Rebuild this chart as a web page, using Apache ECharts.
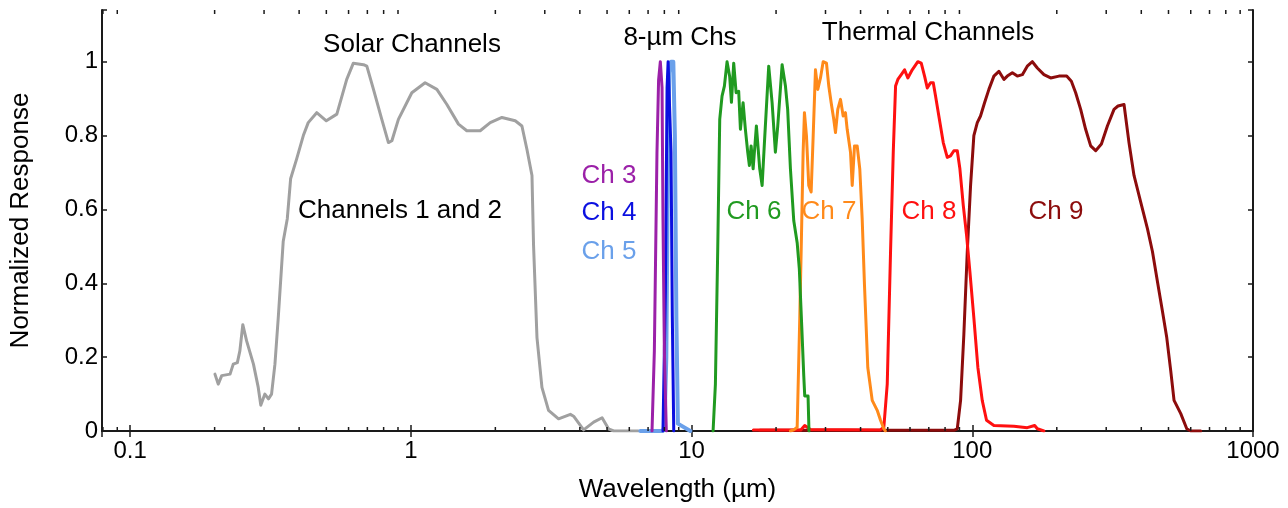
<!DOCTYPE html>
<html><head><meta charset="utf-8">
<script src="https://cdn.jsdelivr.net/npm/echarts@6/dist/echarts.min.js"></script>
<style>html,body{margin:0;padding:0;background:#fff}#c{width:1288px;height:508px}</style>
</head><body><div id="c"></div>
<script>
// ---- axis ticks ----
const xMajorTicks = [0.1, 1, 10, 100, 1000];
const xMinorTicks = [0.08, 0.09,
  0.2, 0.3, 0.4, 0.5, 0.6, 0.7, 0.8, 0.9,
  2, 3, 4, 5, 6, 7, 8, 9,
  20, 30, 40, 50, 60, 70, 80, 90,
  200, 300, 400, 500, 600, 700, 800, 900];
const yTickLabels = ['0', '0.2', '0.4', '0.6', '0.8', '1'];

// ---- spectral response curves: [wavelength (µm), normalized response] ----
const solarCh12 = [[0.2005,0.154],[0.206,0.127],[0.212,0.150],[0.227,0.154],[0.233,0.181],[0.241,0.185],[0.246,0.217],[0.252,0.288],[0.260,0.244],[0.275,0.181],[0.286,0.118],[0.292,0.070],[0.302,0.100],[0.311,0.087],[0.319,0.100],[0.328,0.181],[0.337,0.306],[0.351,0.513],[0.363,0.575],[0.373,0.683],[0.392,0.737],[0.414,0.800],[0.431,0.835],[0.462,0.862],[0.500,0.840],[0.545,0.858],[0.591,0.952],[0.624,0.996],[0.678,0.992],[0.697,0.988],[0.736,0.925],[0.788,0.844],[0.832,0.781],[0.856,0.786],[0.903,0.844],[1.008,0.916],[1.124,0.943],[1.238,0.925],[1.344,0.884],[1.478,0.831],[1.583,0.813],[1.766,0.813],[1.918,0.835],[2.111,0.849],[2.354,0.840],[2.487,0.826],[2.591,0.763],[2.701,0.692],[2.736,0.503],[2.814,0.253],[2.931,0.118],[3.094,0.056],[3.359,0.033],[3.70,0.045],[3.80,0.040],[4.125,0.003],[4.48,0.024],[4.80,0.036],[5.06,0.006],[5.28,0.0],[6.46,0.0]];
const ch3 = [[7.23,0],[7.37,0.217],[7.53,0.755],[7.63,0.95],[7.74,1.0],[7.85,0.93],[7.91,0.575],[8.0,0.218],[8.13,0]];
const ch4 = [[7.91,0],[8.07,0.38],[8.18,0.93],[8.25,1.0],[8.33,1.0],[8.45,0.755],[8.54,0.31],[8.64,0]];
const ch5 = [[6.57,0],[7.9,0.0],[8.0,0.01],[8.13,0.2],[8.23,0.7],[8.33,0.97],[8.44,1.0],[8.61,1.0],[8.72,0.8],[8.83,0.3],[8.94,0.02],[9.9,0]];
const ch6 = [[11.93,0],[12.16,0.127],[12.39,0.486],[12.60,0.844],[12.84,0.907],[13.09,0.934],[13.38,1.0],[13.67,0.96],[13.87,0.89],[14.13,0.996],[14.41,0.916],[14.72,0.92],[14.93,0.817],[15.26,0.889],[15.55,0.817],[15.85,0.755],[16.07,0.719],[16.30,0.772],[16.57,0.71],[17.02,0.826],[17.49,0.71],[17.84,0.665],[18.18,0.781],[18.83,0.988],[19.36,0.889],[19.89,0.755],[20.28,0.826],[21.02,0.992],[21.60,0.934],[22.0,0.87],[22.5,0.71],[23.12,0.57],[23.78,0.51],[24.2,0.44],[24.7,0.28],[25.1,0.15],[25.3,0.095],[26.0,0.095],[26.2,0.0]];
const ch7 = [[22.5,0],[23.12,0.003],[23.78,0.01],[24.29,0.306],[24.57,0.486],[24.97,0.755],[25.24,0.862],[25.66,0.8],[26.15,0.665],[26.67,0.647],[27.12,0.8],[27.63,0.978],[28.16,0.925],[28.79,0.956],[29.43,1.0],[30.24,0.996],[30.82,0.934],[31.43,0.889],[32.10,0.844],[32.56,0.808],[33.18,0.871],[33.93,0.898],[34.68,0.853],[35.33,0.862],[35.84,0.817],[36.83,0.755],[37.35,0.665],[38.06,0.772],[38.90,0.772],[39.74,0.71],[40.53,0.575],[41.30,0.396],[42.44,0.172],[44.01,0.083],[45.85,0.056],[47.11,0.029],[48.41,0.006],[49,0]];
const ch8 = [[16.6,0.003],[24.5,0.003],[25.3,0.015],[26.5,0.004],[47,0.003],[48.41,0.01],[49.78,0.127],[51.15,0.486],[52.30,0.755],[53.30,0.934],[54.31,0.952],[55.85,0.965],[57.39,0.978],[58.94,0.956],[61.11,0.978],[63.99,1.0],[65.80,0.996],[67.61,0.961],[69.12,0.929],[71.01,0.943],[72.61,0.943],[73.98,0.907],[76.01,0.853],[78.81,0.781],[81.44,0.741],[83.67,0.745],[86.00,0.759],[88.43,0.759],[90.34,0.71],[92.88,0.611],[95.43,0.53],[98.04,0.432],[101.3,0.306],[104.7,0.172],[108.5,0.083],[112.4,0.029],[119.4,0.015],[140.7,0.013],[157.0,0.009],[166.8,0.015],[170.5,0.006],[180.0,0]];
const ch9 = [[17.5,0.002],[86,0.002],[88.43,0.006],[90.85,0.083],[93.33,0.262],[95.98,0.486],[98.61,0.665],[101.3,0.8],[104.2,0.835],[107.0,0.853],[110.6,0.889],[114.6,0.925],[119.4,0.961],[124.4,0.974],[129.7,0.952],[133.3,0.961],[138.9,0.97],[144.7,0.961],[150.8,0.965],[157.0,0.988],[163.7,1.0],[170.5,0.983],[180.0,0.965],[190.2,0.956],[203.6,0.961],[216.9,0.961],[225.4,0.947],[233.5,0.916],[243.3,0.871],[253.4,0.817],[264.1,0.772],[275.1,0.759],[288.4,0.777],[302.9,0.826],[319.8,0.871],[330.4,0.88],[347.2,0.884],[361.6,0.781],[376.8,0.692],[398.1,0.62],[420.7,0.548],[438.3,0.486],[456.6,0.405],[475.8,0.324],[492.9,0.253],[509.3,0.163],[523.3,0.083],[552.9,0.047],[580.8,0.006],[600.2,0],[651.6,0]];

// ---- layout / style ----
const X_MIN = 0.0794, X_MAX = 1000, Y_MIN = 0, Y_MAX = 1.14;
const FONT = '"Liberation Sans", Arial, sans-serif';
const AXIS_COLOR = '#1a1a1a';

function lineSeries(name, data, color, width) {
  return { name, type: 'line', data, symbol: 'none', xAxisIndex: 0, yAxisIndex: 0,
    lineStyle: { color, width, join: 'round', cap: 'round' }, silent: true, z: 3 };
}

const annotations = [
  { text: 'Solar Channels', x: 412, y: 45, color: '#000' },
  { text: '8-µm Chs', x: 680, y: 38, color: '#000' },
  { text: 'Thermal Channels', x: 928, y: 33, color: '#000' },
  { text: 'Channels 1 and 2', x: 400, y: 211, color: '#000' },
  { text: 'Ch 3', x: 609, y: 176, color: '#9b20a8' },
  { text: 'Ch 4', x: 609, y: 213, color: '#0b10e0' },
  { text: 'Ch 5', x: 609, y: 252, color: '#6aa0ea' },
  { text: 'Ch 6', x: 754, y: 212, color: '#209a20' },
  { text: 'Ch 7', x: 829, y: 212, color: '#ff8a1a' },
  { text: 'Ch 8', x: 929, y: 212, color: '#ff1010' },
  { text: 'Ch 9', x: 1056, y: 212, color: '#8c0c0c' }
];

const isMajor = v => xMajorTicks.some(m => Math.abs(Math.log10(v) - Math.log10(m)) < 1e-6);

const chart = echarts.init(document.getElementById('c'), null, { renderer: 'canvas' });
const xAxisCommon = {
  type: 'log', logBase: 10, min: X_MIN, max: X_MAX,
  axisLine: { show: true, lineStyle: { color: AXIS_COLOR, width: 2 } },
  axisTick: { show: true, inside: true, length: 6, lineStyle: { color: AXIS_COLOR, width: 1.5 } },
  splitLine: { show: false }, minorTick: { show: false }
};
const yAxisCommon = {
  type: 'value', min: Y_MIN, max: Y_MAX, interval: 0.2,
  axisLine: { show: true, lineStyle: { color: AXIS_COLOR, width: 2 } },
  axisTick: { show: true, inside: true, length: 5, lineStyle: { color: AXIS_COLOR, width: 1.5 } },
  splitLine: { show: false }
};

chart.setOption({
  animation: false,
  backgroundColor: '#fff',
  grid: { left: 102, right: 35, top: 10, bottom: 74, containLabel: false },
  xAxis: [
    Object.assign({}, xAxisCommon, {
      position: 'bottom',
      name: 'Wavelength (µm)', nameLocation: 'middle', nameGap: 46,
      nameTextStyle: { color: '#000', fontSize: 26, fontFamily: FONT },
      axisLabel: { show: true, color: '#000', fontSize: 24, fontFamily: FONT, margin: 8,
        showMinLabel: true,
        formatter: v => isMajor(v) ? xMajorTicks.find(m => Math.abs(Math.log10(v) - Math.log10(m)) < 1e-6).toString() : '' }
    }),
    Object.assign({}, xAxisCommon, { position: 'top', axisLabel: { show: false } })
  ],
  yAxis: [
    Object.assign({}, yAxisCommon, {
      position: 'left',
      name: 'Normalized Response', nameLocation: 'middle', nameGap: 68,
      nameTextStyle: { color: '#000', fontSize: 26, fontFamily: FONT },
      axisLabel: { show: true, color: '#000', fontSize: 24, fontFamily: FONT, margin: 4,
        formatter: v => { const i = Math.round(v / 0.2); return (Math.abs(v - i * 0.2) < 1e-6 && i < yTickLabels.length) ? yTickLabels[i] : ''; } }
    }),
    Object.assign({}, yAxisCommon, { position: 'right', axisLabel: { show: false } })
  ],
  graphic: annotations.map(a => ({
    type: 'text', x: a.x, y: a.y, silent: true, z: 10,
    style: { text: a.text, fill: a.color, fontSize: 26, fontFamily: FONT, align: 'center', verticalAlign: 'middle' }
  })),
  series: [
    lineSeries('Channels 1 and 2', solarCh12, '#a0a0a0', 3),
    lineSeries('Ch 9', ch9, '#8c0c0c', 3),
    lineSeries('Ch 8', ch8, '#ff1010', 3),
    lineSeries('Ch 7', ch7, '#ff8a1a', 3),
    lineSeries('Ch 6', ch6, '#209a20', 3),
    lineSeries('Ch 5', ch5, '#6aa0ea', 4),
    lineSeries('Ch 4', ch4, '#0b10e0', 3),
    lineSeries('Ch 3', ch3, '#9b20a8', 3),
    {
      type: 'custom', xAxisIndex: 0, yAxisIndex: 0, silent: true, clip: false, z: 5,
      data: xMinorTicks.map(v => [v, Y_MIN]),
      encode: { x: 0, y: 1 },
      renderItem: (params, api) => {
        const v = api.value(0);
        const b = api.coord([v, Y_MIN]);
        const t = api.coord([v, Y_MAX]);
        return { type: 'group', children: [
          { type: 'line', shape: { x1: b[0], y1: b[1], x2: b[0], y2: b[1] - 4 }, style: { stroke: AXIS_COLOR, lineWidth: 1.5 } },
          { type: 'line', shape: { x1: t[0], y1: t[1], x2: t[0], y2: t[1] + 4 }, style: { stroke: AXIS_COLOR, lineWidth: 1.5 } }
        ]};
      }
    }
  ]
});
</script>
</body></html>
